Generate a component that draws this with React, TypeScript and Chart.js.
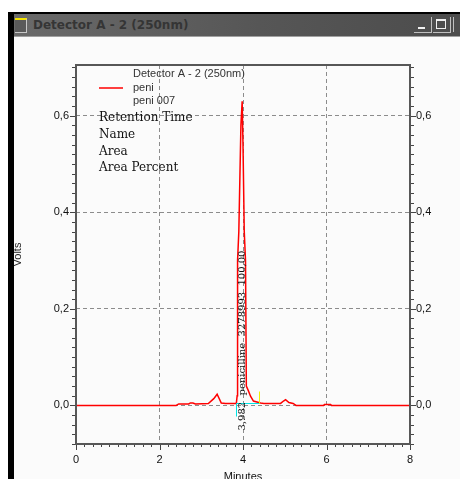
import React, { useEffect, useRef } from "react";
import { Chart, registerables } from "chart.js";

Chart.register(...registerables);

// ---- data (minutes, volts) ----
const times = [
  0, 2.4, 2.46, 2.7, 2.74, 2.8, 2.86, 3.17, 3.3, 3.38, 3.48, 3.58, 3.84, 3.86, 3.87, 3.9, 3.95,
  3.98, 4.0, 4.03, 4.06, 4.08, 4.13, 4.18, 4.25, 4.42, 4.5, 4.9, 4.97, 5.02, 5.1, 5.2, 5.27,
  5.93, 5.95, 6.1, 6.12, 8.0,
];
const volts = [
  0, 0, 0.003, 0.003, 0.005, 0.005, 0.003, 0.004, 0.014, 0.023, 0.005, 0.004, 0.004, 0.02, 0.3,
  0.36, 0.58, 0.63, 0.54, 0.36, 0.3, 0.04, 0.03, 0.019, 0.009, 0.005, 0.004, 0.004, 0.009, 0.012,
  0.006, 0.004, 0, 0, 0.002, 0.002, 0, 0,
];
const xTicks = [0, 2, 4, 6, 8];
const yTicks = [0, 0.2, 0.4, 0.6];
const xMin = 0;
const xMax = 8;
const yMin = -0.08;
const yMax = 0.705;

const windowTitle = "Detector A - 2 (250nm)";
const legendTitle = "Detector A - 2 (250nm)";
const seriesNames = ["peni", "peni 007"];
const reportFields = ["Retention Time", "Name", "Area", "Area Percent"];
const peakRT = 3.982;
const peakLabel = "3,982  penicilline  3278993  100,00";
const peakLabelStartY = -0.052;
const baselineStart = 3.84;
const baselineEnd = 4.38;
const baselineLevel = 0.005;
const baselineDrop = -0.021;
const peakEndMarkTop = 0.029;

const SANS = '"Liberation Sans", Arial, sans-serif';
const SERIF = '"DejaVu Serif", serif';

const decorPlugin = {
  id: "decor",
  afterDatasetsDraw(chart: any) {
    const { ctx, chartArea: a, scales } = chart;
    const x = scales.x;
    const y = scales.y;
    ctx.save();
    // integration baseline (cyan) and peak end mark (yellow)
    const bx0 = Math.round(x.getPixelForValue(baselineStart)) + 0.5;
    const bx1 = Math.round(x.getPixelForValue(baselineEnd)) + 0.5;
    const by = Math.round(y.getPixelForValue(baselineLevel)) + 0.5;
    ctx.lineWidth = 1;
    ctx.strokeStyle = "#00e5e5";
    ctx.beginPath();
    ctx.moveTo(bx0, Math.round(y.getPixelForValue(baselineDrop)) + 0.5);
    ctx.lineTo(bx0, by);
    ctx.lineTo(bx1, by);
    ctx.stroke();
    ctx.strokeStyle = "#f2f200";
    ctx.beginPath();
    ctx.moveTo(bx1, by);
    ctx.lineTo(bx1, Math.round(y.getPixelForValue(peakEndMarkTop)) + 0.5);
    ctx.stroke();

    // peak annotation (rotated)
    ctx.save();
    ctx.translate(x.getPixelForValue(peakRT), y.getPixelForValue(peakLabelStartY));
    ctx.rotate(-Math.PI / 2);
    ctx.fillStyle = "#111";
    ctx.font = `10px ${SERIF}`;
    ctx.textAlign = "left";
    ctx.textBaseline = "middle";
    ctx.fillText(peakLabel, 0, 0);
    ctx.restore();

    // legend block
    const lx = a.left;
    const ly = a.top;
    ctx.fillStyle = "#333";
    ctx.font = `11px ${SANS}`;
    ctx.textAlign = "left";
    ctx.textBaseline = "middle";
    ctx.fillText(legendTitle, lx + 57, ly + 9);
    ctx.fillText(seriesNames[0], lx + 57, ly + 23);
    ctx.fillText(seriesNames[1], lx + 57, ly + 36);
    ctx.strokeStyle = "#ff0000";
    ctx.lineWidth = 1.5;
    ctx.beginPath();
    ctx.moveTo(lx + 23, ly + 23);
    ctx.lineTo(lx + 47, ly + 23);
    ctx.stroke();
    ctx.fillStyle = "#111";
    ctx.font = `12px ${SERIF}`;
    const rows = [53, 70, 87, 103];
    reportFields.forEach((t, i) => ctx.fillText(t, lx + 23, ly + rows[i]));
    ctx.restore();
  },
  afterDraw(chart: any) {
    const { ctx, chartArea: a, scales } = chart;
    const x = scales.x;
    const y = scales.y;
    ctx.save();
    ctx.strokeStyle = "#444";
    ctx.lineWidth = 1;
    ctx.beginPath();
    for (let i = -4; i <= 35; i++) {
      const py = Math.round(y.getPixelForValue(i / 50)) + 0.5;
      const len = i % 10 === 0 ? 6 : 4;
      ctx.moveTo(a.left - len, py);
      ctx.lineTo(a.left, py);
      ctx.moveTo(a.right, py);
      ctx.lineTo(a.right + len, py);
    }
    for (let i = 0; i <= 40; i++) {
      const px = Math.round(x.getPixelForValue(i / 5)) + 0.5;
      const len = i % 10 === 0 ? 6 : 3;
      ctx.moveTo(px, a.bottom);
      ctx.lineTo(px, a.bottom + len);
    }
    ctx.stroke();
    ctx.strokeStyle = "#575757";
    ctx.lineWidth = 2;
    ctx.strokeRect(a.left, a.top, a.right - a.left, a.bottom - a.top);
    ctx.restore();
  },
};

const gridColor = (ends: number[]) => (c: any) =>
  c.tick && ends.includes(c.tick.value) ? "rgba(0,0,0,0)" : "#8c8c8c";

const fmt = (v: any) => Number(v).toFixed(1).replace(".", ",");

export default function App() {
  const ref = useRef<HTMLCanvasElement | null>(null);
  useEffect(() => {
    if (!ref.current) return;
    const chart = new Chart(ref.current, {
      type: "line",
      data: {
        datasets: [
          {
            data: times.map((t, i) => ({ x: t, y: volts[i] })),
            borderColor: "#ff0000",
            borderWidth: 1.5,
            pointRadius: 0,
            tension: 0,
            fill: false,
          },
        ],
      },
      options: {
        responsive: false,
        animation: false,
        events: [],
        layout: { padding: { top: 27, left: 0, right: 0, bottom: 0 } },
        plugins: { legend: { display: false }, tooltip: { enabled: false } },
        scales: {
          x: {
            type: "linear",
            position: "bottom",
            min: xMin,
            max: xMax,
            afterBuildTicks: (s: any) => {
              s.ticks = xTicks.map((v) => ({ value: v }));
            },
            afterFit: (s: any) => {
              s.height = 54;
            },
            grid: {
              color: gridColor([0, 8]),
              lineWidth: 1,
              drawTicks: true,
              tickLength: 6,
              tickColor: "rgba(0,0,0,0)",
            },
            border: { display: false, dash: [4, 3] },
            ticks: {
              color: "#111",
              font: { family: SANS, size: 11 },
              padding: 3,
              maxRotation: 0,
              callback: (v: any) => String(v),
            },
            title: {
              display: true,
              text: "Minutes",
              color: "#111",
              font: { family: SANS, size: 11 },
              padding: { top: 0, bottom: 14 },
            },
          },
          y: {
            type: "linear",
            position: "left",
            min: yMin,
            max: yMax,
            afterBuildTicks: (s: any) => {
              s.ticks = yTicks.map((v) => ({ value: v }));
            },
            afterFit: (s: any) => {
              s.width = 68;
            },
            grid: {
              color: gridColor([]),
              lineWidth: 1,
              drawTicks: true,
              tickLength: 6,
              tickColor: "rgba(0,0,0,0)",
            },
            border: { display: false, dash: [4, 3] },
            ticks: {
              color: "#111",
              font: { family: SANS, size: 11 },
              padding: 1,
              callback: fmt,
            },
            title: {
              display: true,
              text: "Volts",
              color: "#222",
              font: { family: SANS, size: 11 },
              padding: { top: 3, bottom: 0 },
            },
          },
          y2: {
            type: "linear",
            position: "right",
            min: yMin,
            max: yMax,
            afterBuildTicks: (s: any) => {
              s.ticks = yTicks.map((v) => ({ value: v }));
            },
            afterFit: (s: any) => {
              s.width = 50;
            },
            grid: {
              drawOnChartArea: false,
              drawTicks: true,
              tickLength: 6,
              tickColor: "rgba(0,0,0,0)",
            },
            border: { display: false },
            ticks: {
              color: "#111",
              font: { family: SANS, size: 11 },
              padding: 0,
              callback: fmt,
            },
          },
        },
      } as any,
      plugins: [decorPlugin],
    });
    return () => chart.destroy();
  }, []);

  return (
    <div
      style={{
        position: "fixed",
        left: 0,
        top: 0,
        width: 460,
        height: 479,
        overflow: "hidden",
        background: "#ffffff",
      }}
    >
      <div style={{ position: "absolute", left: 8, top: 12, width: 452, height: 467, background: "#000" }} />
      <div style={{ position: "absolute", left: 14, top: 37, width: 446, height: 442, background: "#fbfbfb" }} />
      <canvas
        ref={ref}
        width={452}
        height={460}
        style={{ position: "absolute", left: 8, top: 38, width: 452, height: 460 }}
      />
      <div style={{ position: "absolute", left: 8, top: 12, width: 6, height: 467, background: "#000" }} />
      <div
        style={{
          position: "absolute",
          left: 14,
          top: 14,
          width: 446,
          height: 22,
          background: "linear-gradient(to right, #6a6a6a, #565656 55%, #4c4c4c)",
        }}
      >
        <div
          style={{
            position: "absolute",
            left: 1,
            top: 4,
            width: 11,
            height: 12,
            background: "#5a5a5a",
            borderRight: "1px solid #c8c8c8",
            borderBottom: "1px solid #c8c8c8",
            borderTop: "2px solid #f4e400",
          }}
        />
        <div
          style={{
            position: "absolute",
            left: 19,
            top: 0,
            height: 22,
            lineHeight: "22px",
            fontFamily: '"DejaVu Sans", sans-serif',
            fontWeight: "bold",
            fontSize: 12,
            color: "#353535",
            whiteSpace: "nowrap",
          }}
        >
          {windowTitle}
        </div>
        <div
          style={{
            position: "absolute",
            left: 400,
            top: 3,
            width: 17,
            height: 15,
            background: "#4e4e4e",
            borderRight: "1px solid #c0c0c0",
            borderBottom: "1px solid #c0c0c0",
          }}
        >
          <div style={{ position: "absolute", left: 4, top: 10, width: 7, height: 2, background: "#f0f0f0" }} />
        </div>
        <div
          style={{
            position: "absolute",
            left: 419,
            top: 3,
            width: 17,
            height: 15,
            background: "#4e4e4e",
            borderRight: "1px solid #c0c0c0",
            borderBottom: "1px solid #c0c0c0",
          }}
        >
          <div
            style={{
              position: "absolute",
              left: 3,
              top: 2,
              width: 8,
              height: 7,
              border: "1px solid #f0f0f0",
              borderTop: "2px solid #f0f0f0",
            }}
          />
        </div>
        <div
          style={{
            position: "absolute",
            left: 439,
            top: 3,
            width: 17,
            height: 15,
            background: "#4e4e4e",
            borderLeft: "1px solid #c0c0c0",
          }}
        />
      </div>
      <div style={{ position: "absolute", left: 14, top: 36, width: 446, height: 1, background: "#a0a0a0" }} />
    </div>
  );
}
